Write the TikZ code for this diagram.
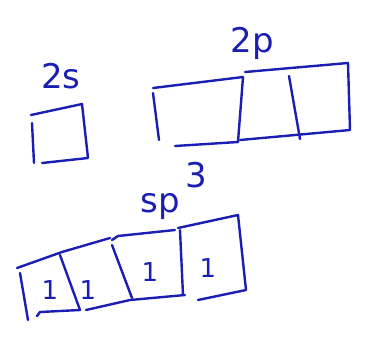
\documentclass[tikz,border=0pt]{standalone}
\usepackage{fontspec}
\setmainfont{DejaVu Sans}
\definecolor{ink}{RGB}{26,30,178}
\begin{document}
\begin{tikzpicture}[x=1pt,y=-1pt,
  pen/.style={draw=ink,line width=2.4pt,line cap=round,line join=round},
  lbl/.style={text=ink,font=\fontsize{34}{34}\selectfont,inner sep=0pt},
  one/.style={text=ink,font=\fontsize{26}{26}\selectfont,inner sep=0pt}]
\useasboundingbox (0,0) rectangle (366,338);
% 2s
\node[lbl] (l2s) at (61,76) {2s};
\draw[pen] (32,123) -- (34,163);
\draw[pen] (31,115) -- (82,104) -- (88,158) -- (42,163);
% 2p
\node[lbl] (l2p) at (252,43) {2p};
\draw[pen] (153,93) -- (159,140);
\draw[pen] (153,88) -- (243,77);
\draw[pen] (243,77) -- (238,142);
\draw[pen] (175,146) -- (238,142);
\draw[pen] (245,72) -- (348,63) -- (350,130) -- (240,140);
\draw[pen] (289,76) -- (300,139);
% sp3
\node[lbl] (lsp) at (160,207) {sp};
\node[lbl] (l3) at (196,175) {3};
\draw[pen] (17,268) -- (62,252);
\draw[pen] (20,273) -- (28,320);
\draw[pen] (37,316) -- (40,312) -- (80,310);
\draw[pen] (62,252) -- (110,238);
\draw[pen] (60,255) -- (80,310);
\draw[pen] (86,310) -- (130,300) -- (185,295);
\draw[pen] (112,240) -- (118,236) -- (175,230);
\draw[pen] (112,245) -- (132,298);
\draw[pen] (178,228) -- (238,215) -- (246,290) -- (198,300);
\draw[pen] (180,230) -- (183,295);
\node[one] (o1) at (50,290) {1};
\node[one] (o2) at (88,290) {1};
\node[one] (o3) at (150,272) {1};
\node[one] (o4) at (208,268) {1};
\end{tikzpicture}
\end{document}
